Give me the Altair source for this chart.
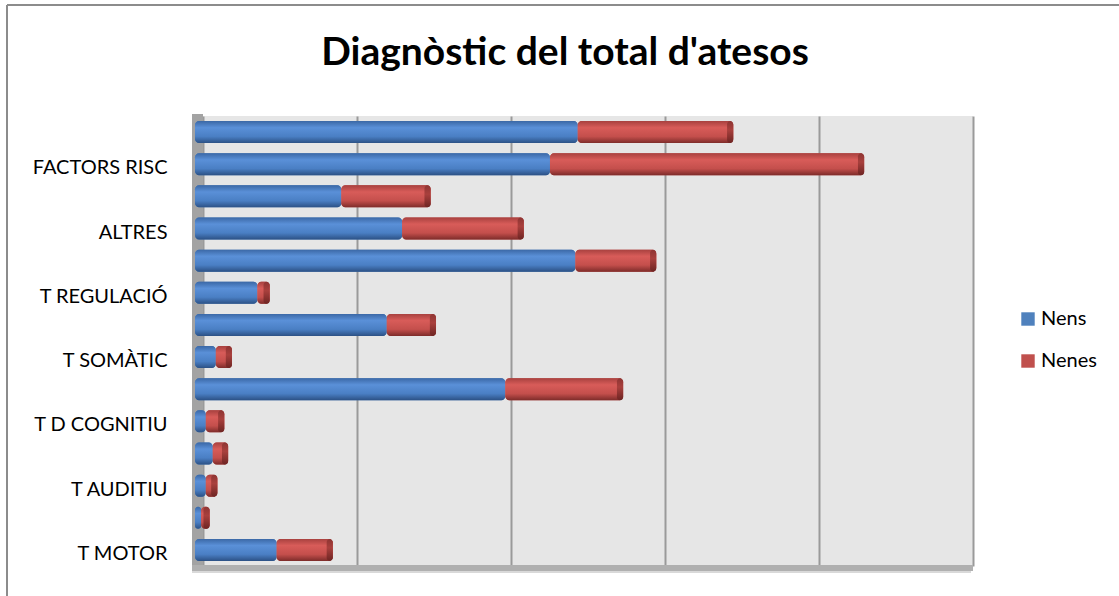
import json
import altair as alt
import pandas as pd

# ---- data (top to bottom) ----
labels = ["", "FACTORS RISC", "", "ALTRES", "", "T REGULACIÓ", "", "T SOMÀTIC",
          "", "T D COGNITIU", "", "T AUDITIU", "", "T MOTOR"]
nens = [49.7, 46.1, 19.0, 26.9, 49.4, 8.1, 24.9, 2.7, 40.3, 1.4, 2.3, 1.4, 0.8, 10.6]
nenes = [20.2, 40.8, 11.6, 15.8, 10.5, 1.6, 6.4, 2.1, 15.3, 2.4, 2.0, 1.5, 1.1, 7.3]
series = ["Nens", "Nenes"]
colors = ["#4f81bd", "#c0504d"]
title_text = "Diagnòstic del total d'atesos"

rows = []
for i in range(len(labels)):
    rows.append({"idx": i, "serie": "Nens", "start": 0.0, "end": nens[i]})
    rows.append({"idx": i, "serie": "Nenes", "start": nens[i], "end": nens[i] + nenes[i]})
df = pd.DataFrame(rows)

W, H = 778, 450
label_expr = json.dumps(labels) + "[datum.value]"

xscale = alt.Scale(domain=[0, 101.04], nice=False, zero=False)
yenc = alt.Y("idx:O", sort="ascending",
             scale=alt.Scale(paddingInner=0.3, paddingOuter=0.15),
             axis=alt.Axis(title=None, ticks=False, domain=False, labelExpr=label_expr,
                           labelPadding=28, labelFontSize=20, labelFont="Lato",
                           labelOffset=4, labelColor="#000000", grid=False))

base = alt.Chart(df)

bars_legend = base.mark_bar(size=22, cornerRadius=4).encode(
    x=alt.X("start:Q", scale=xscale,
            axis=alt.Axis(title=None, labels=False, ticks=False, domain=False,
                          grid=True, gridColor="#9a9a9a", gridWidth=2,
                          tickOffset=8, values=[0, 20, 40, 60, 80, 100])),
    x2="end:Q",
    y=yenc,
    color=alt.Color("serie:N", sort=series,
                    scale=alt.Scale(domain=series, range=colors),
                    legend=alt.Legend(title=None, orient="none", legendX=823, legendY=193,
                                      labelFont="Lato", labelFontSize=20, labelColor="#000000",
                                      symbolType="square", symbolSize=180, labelOffset=3,
                                      symbolStrokeWidth=1, rowPadding=22, padding=0)),
)

blue_grad = alt.Gradient(gradient="linear", x1=0, y1=0, x2=0, y2=1, stops=[
    alt.GradientStop(color="#3b68a6", offset=0),
    alt.GradientStop(color="#5a90d8", offset=0.3),
    alt.GradientStop(color="#4a7fc4", offset=0.7),
    alt.GradientStop(color="#2c5185", offset=1)])
red_grad = alt.Gradient(gradient="linear", x1=0, y1=0, x2=0, y2=1, stops=[
    alt.GradientStop(color="#a8413f", offset=0),
    alt.GradientStop(color="#d85c59", offset=0.3),
    alt.GradientStop(color="#c44f4c", offset=0.7),
    alt.GradientStop(color="#7e2c2a", offset=1)])
cap_grad = alt.Gradient(gradient="linear", x1=0, y1=0, x2=0, y2=1, stops=[
    alt.GradientStop(color="#8e3533", offset=0),
    alt.GradientStop(color="#a9403d", offset=0.4),
    alt.GradientStop(color="#6e2523", offset=1)])

bars_blue = base.transform_filter(alt.datum.serie == "Nens").mark_bar(
    size=22, cornerRadius=4, color=blue_grad).encode(
    x=alt.X("start:Q", scale=xscale), x2="end:Q", y=yenc)
bars_red = base.transform_filter(alt.datum.serie == "Nenes").mark_bar(
    size=22, cornerRadius=4, color=red_grad).encode(
    x=alt.X("start:Q", scale=xscale), x2="end:Q", y=yenc)
caps = base.transform_filter(alt.datum.serie == "Nenes").transform_calculate(
    cap0="datum.end - 0.8").mark_bar(
    size=22, cornerRadius=4, color=cap_grad).encode(
    x=alt.X("cap0:Q", scale=xscale), x2="end:Q", y=yenc)

# 3D-like walls / floor and outer frame
left_wall = alt.Chart(df).mark_rect(color="#a3a3a3").encode(
    x=alt.value(-3), x2=alt.value(8), y=alt.value(-2), y2=alt.value(449))
floor = alt.Chart(df).mark_rect(color="#b0b0b0").encode(
    x=alt.value(-3), x2=alt.value(778), y=alt.value(449), y2=alt.value(455))
floor2 = alt.Chart(df).mark_rect(color="#d9d9d9").encode(
    x=alt.value(-3), x2=alt.value(776), y=alt.value(455), y2=alt.value(457))
frame_top = alt.Chart(df).mark_rule(color="#8c8c8c", strokeWidth=2).encode(
    x=alt.value(-188), x2=alt.value(924), y=alt.value(-111))
frame_left = alt.Chart(df).mark_rule(color="#8c8c8c", strokeWidth=2).encode(
    x=alt.value(-188), y=alt.value(-111), y2=alt.value(480))
title = alt.Chart(pd.DataFrame({"t": [title_text]})).mark_text(
    font="Lato", fontSize=39, fontWeight="bold", color="#000000",
    align="center", baseline="middle").encode(
    text="t:N", x=alt.value(370), y=alt.value(-63))

chart = alt.layer(
    left_wall, floor, floor2, bars_legend, bars_blue, bars_red, caps,
    frame_top, frame_left, title
).properties(
    width=W, height=H,
    autosize=alt.AutoSizeParams(type="none"),
    padding={"left": 195, "top": 116, "right": 146, "bottom": 30},
    background="#ffffff",
).configure_view(fill="#e6e6e6", strokeWidth=0)

chart.save("out.html", embed_options={"renderer": "svg", "actions": False})
